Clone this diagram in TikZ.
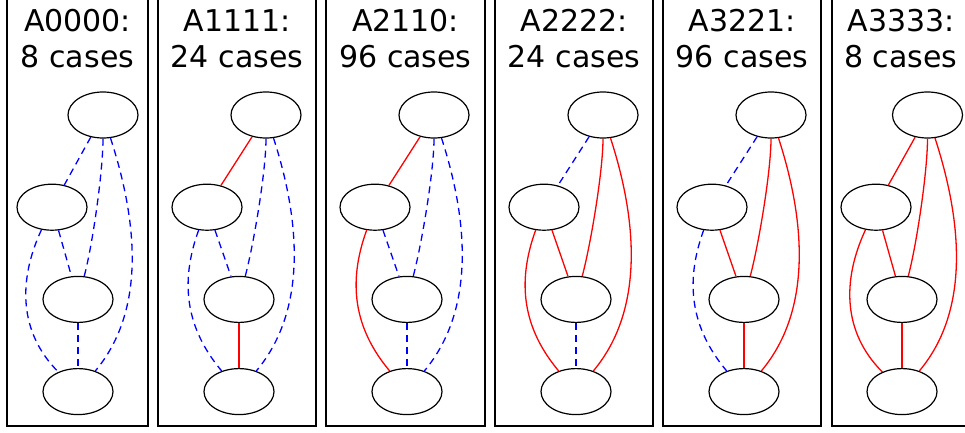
\documentclass[tikz,border=0pt]{standalone}
\usepackage{fontspec}
\setmainfont{DejaVu Sans}
\usepackage{tikz}
\usetikzlibrary{positioning, shapes.geometric}

\begin{document}
\begin{tikzpicture}[
    x=1pt, y=1pt,
    node distance=45pt,
    vtx/.style={ellipse, draw, line width=1.2pt, minimum width=70pt, minimum height=46pt, inner sep=0pt},
    caption/.style={align=center, inner sep=0pt, font=\fontsize{30}{36}\selectfont},
    cluster/.style={draw, line width=1.2pt},
    redge/.style={draw=red, line width=1.3pt},
    bedge/.style={draw=blue, line width=1.3pt, dash pattern=on 7pt off 5pt}
]
    \clip (0,0) rectangle (965,-433);

    % A0000
    \draw[cluster] (7,-426) rectangle (148,10);
    \node[caption] (a0000_title) at (77.5,-39) {A0000:\\8 cases};
    \node[vtx] (a0000_top) at (103,-115) {};
    \node[vtx, below=of a0000_top, xshift=-51pt] (a0000_left) {};
    \node[vtx, below=of a0000_left, xshift=26pt] (a0000_mid) {};
    \node[vtx, below=of a0000_mid] (a0000_bot) {};
    \path
        (a0000_top) edge[bedge] (a0000_left)
        (a0000_top) edge[bedge, out=-90, in=75, looseness=0.6] (a0000_mid)
        (a0000_top) edge[bedge, out=-72, in=50, looseness=0.9] (a0000_bot)
        (a0000_left) edge[bedge] (a0000_mid)
        (a0000_left) edge[bedge, out=-115, in=135] (a0000_bot)
        (a0000_mid) edge[bedge] (a0000_bot);

    % A1111
    \draw[cluster] (158,-426) rectangle (316,10);
    \node[caption] (a1111_title) at (237,-39) {A1111:\\24 cases};
    \node[vtx] (a1111_top) at (266,-115) {};
    \node[vtx, below=of a1111_top, xshift=-59pt] (a1111_left) {};
    \node[vtx, below=of a1111_left, xshift=32pt] (a1111_mid) {};
    \node[vtx, below=of a1111_mid] (a1111_bot) {};
    \path
        (a1111_top) edge[redge] (a1111_left)
        (a1111_top) edge[bedge, out=-90, in=75, looseness=0.6] (a1111_mid)
        (a1111_top) edge[bedge, out=-72, in=50, looseness=0.9] (a1111_bot)
        (a1111_left) edge[bedge] (a1111_mid)
        (a1111_left) edge[bedge, out=-110, in=130] (a1111_bot)
        (a1111_mid) edge[redge] (a1111_bot);

    % A2110
    \draw[cluster] (326,-426) rectangle (485,10);
    \node[caption] (a2110_title) at (405.5,-39) {A2110:\\96 cases};
    \node[vtx] (a2110_top) at (434,-115) {};
    \node[vtx, below=of a2110_top, xshift=-59pt] (a2110_left) {};
    \node[vtx, below=of a2110_left, xshift=32pt] (a2110_mid) {};
    \node[vtx, below=of a2110_mid] (a2110_bot) {};
    \path
        (a2110_top) edge[redge] (a2110_left)
        (a2110_top) edge[bedge, out=-90, in=75, looseness=0.6] (a2110_mid)
        (a2110_top) edge[bedge, out=-72, in=50, looseness=0.9] (a2110_bot)
        (a2110_left) edge[bedge] (a2110_mid)
        (a2110_left) edge[redge, out=-110, in=130] (a2110_bot)
        (a2110_mid) edge[bedge] (a2110_bot);

    % A2222
    \draw[cluster] (495,-426) rectangle (653,10);
    \node[caption] (a2222_title) at (574,-39) {A2222:\\24 cases};
    \node[vtx] (a2222_top) at (603,-115) {};
    \node[vtx, below=of a2222_top, xshift=-59pt] (a2222_left) {};
    \node[vtx, below=of a2222_left, xshift=32pt] (a2222_mid) {};
    \node[vtx, below=of a2222_mid] (a2222_bot) {};
    \path
        (a2222_top) edge[bedge] (a2222_left)
        (a2222_top) edge[redge, out=-90, in=75, looseness=0.6] (a2222_mid)
        (a2222_top) edge[redge, out=-72, in=50, looseness=0.9] (a2222_bot)
        (a2222_left) edge[redge] (a2222_mid)
        (a2222_left) edge[redge, out=-110, in=130] (a2222_bot)
        (a2222_mid) edge[bedge] (a2222_bot);

    % A3221
    \draw[cluster] (663,-426) rectangle (821,10);
    \node[caption] (a3221_title) at (742,-39) {A3221:\\96 cases};
    \node[vtx] (a3221_top) at (771,-115) {};
    \node[vtx, below=of a3221_top, xshift=-59pt] (a3221_left) {};
    \node[vtx, below=of a3221_left, xshift=32pt] (a3221_mid) {};
    \node[vtx, below=of a3221_mid] (a3221_bot) {};
    \path
        (a3221_top) edge[bedge] (a3221_left)
        (a3221_top) edge[redge, out=-90, in=75, looseness=0.6] (a3221_mid)
        (a3221_top) edge[redge, out=-72, in=50, looseness=0.9] (a3221_bot)
        (a3221_left) edge[redge] (a3221_mid)
        (a3221_left) edge[bedge, out=-110, in=130] (a3221_bot)
        (a3221_mid) edge[redge] (a3221_bot);

    % A3333
    \draw[cluster] (832,-426) rectangle (970,10);
    \node[caption] (a3333_title) at (901,-39) {A3333:\\8 cases};
    \node[vtx] (a3333_top) at (927.5,-115) {};
    \node[vtx, below=of a3333_top, xshift=-51.5pt] (a3333_left) {};
    \node[vtx, below=of a3333_left, xshift=26pt] (a3333_mid) {};
    \node[vtx, below=of a3333_mid] (a3333_bot) {};
    \path
        (a3333_top) edge[redge] (a3333_left)
        (a3333_top) edge[redge, out=-90, in=75, looseness=0.6] (a3333_mid)
        (a3333_top) edge[redge, out=-72, in=50, looseness=0.9] (a3333_bot)
        (a3333_left) edge[redge] (a3333_mid)
        (a3333_left) edge[redge, out=-115, in=135] (a3333_bot)
        (a3333_mid) edge[redge] (a3333_bot);
\end{tikzpicture}
\end{document}
